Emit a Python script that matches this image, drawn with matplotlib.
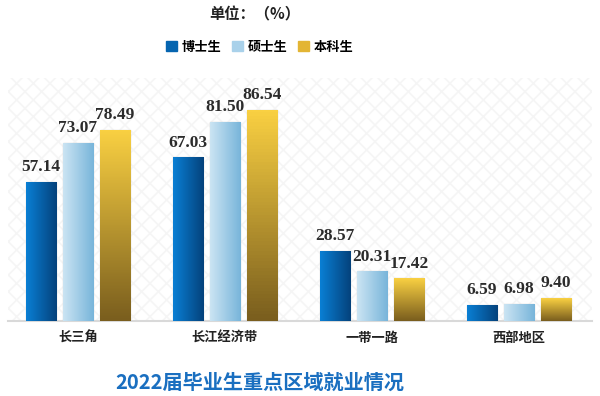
import numpy as np
import matplotlib
matplotlib.use('Agg')
import matplotlib.pyplot as plt
from matplotlib.colors import LinearSegmentedColormap

plt.rcParams['font.family'] = ['Noto Sans CJK SC', 'DejaVu Sans']
plt.rcParams['hatch.linewidth'] = 1.2

# data
regions = ['长三角', '长江经济带', '一带一路', '西部地区']
series = ['博士生', '硕士生', '本科生']
phd = [57.14, 67.03, 28.57, 6.59]
master = [73.07, 81.50, 20.31, 6.98]
bachelor = [78.49, 86.54, 17.42, 9.40]

# gradient colours per series: (start, end, direction)
grads = [('#0a7fd4', '#04427c', 'h'),
         ('#cbe4f3', '#78b5da', 'h'),
         ('#f9d042', '#7a5e1e', 'v')]
legend_colors = ['#0565b0', '#a9d1ea', '#e3b534']

fig = plt.figure(figsize=(6, 3.96), dpi=100)
ax = fig.add_axes([8/600, 1 - 321/396, 584/600, 243/396])

ax.patch.set_facecolor('white')
ax.patch.set_hatch('xx')
ax.patch.set_edgecolor('#f5f5f5')
ax.patch.set_linewidth(0)

x = np.arange(len(regions))
width = 0.205
step = 0.252

for i, (vals, (c0, c1, d)) in enumerate(zip([phd, master, bachelor], grads)):
    bars = ax.bar(x + (i - 1) * step, vals, width, color='none',
                  edgecolor='#d6d6d6', linewidth=1.0, zorder=3)
    cmap = LinearSegmentedColormap.from_list('g%d' % i, [c0, c1])
    if d == 'h':
        grad = np.linspace(0, 1, 64).reshape(1, -1)
    else:
        grad = np.linspace(0, 1, 64).reshape(-1, 1)
    for b, v in zip(bars, vals):
        bx, by = b.get_x(), b.get_y()
        bw, bh = b.get_width(), b.get_height()
        im = ax.imshow(grad, cmap=cmap, aspect='auto',
                       extent=[bx, bx + bw, by, by + bh],
                       origin='upper', zorder=4)
        im.set_clip_path(b)
        ax.text(bx + bw / 2, v + 2.8, f'{v:.2f}', ha='center',
                va='bottom', fontsize=12.5, fontweight='bold',
                family='Liberation Serif', color='#2b2b2b', zorder=5)

ax.set_xlim(-0.476, 3.497)
ax.set_ylim(0, 99.6)
ax.set_xticks(x)
ax.set_xticklabels(regions, fontsize=9.5, fontweight='bold', color='#222222')
ax.tick_params(axis='x', length=0, pad=7)
ax.set_yticks([])
for s in ['top', 'left', 'right']:
    ax.spines[s].set_visible(False)
ax.spines['bottom'].set_color('#d9d9d9')
ax.spines['bottom'].set_linewidth(1.5)

# header and legend
fig.text(255/600, 1 - 14/396, '单位：（%）', ha='center', va='center',
         fontsize=11, fontweight='bold', color='#222222')

handles = [plt.Rectangle((0, 0), 1, 1, color=c) for c in legend_colors]
fig.legend(handles, series, loc='center', bbox_to_anchor=(260/600, 1 - 47/396),
           ncol=3, frameon=False, handlelength=0.8, handleheight=0.8,
           handletextpad=0.4, columnspacing=0.8,
           prop={'size': 9.5, 'weight': 'bold'})

fig.text(260/600, 1 - 382/396, '2022届毕业生重点区域就业情况', ha='center',
         va='center', fontsize=14.5, fontweight='bold', color='#1a6fc0')

fig.savefig('out.png', dpi=100)
